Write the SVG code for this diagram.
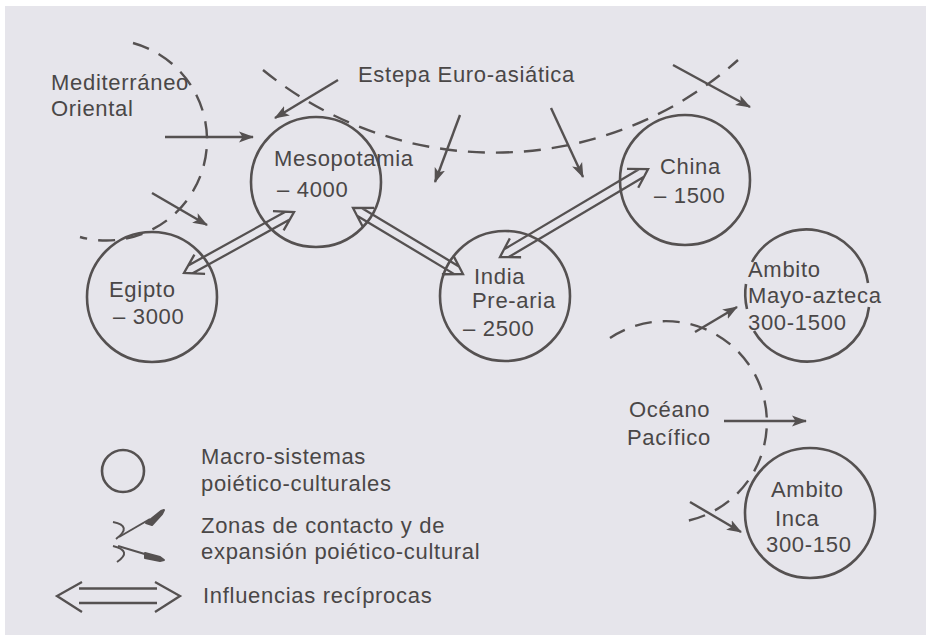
<svg xmlns="http://www.w3.org/2000/svg" width="926" height="635" viewBox="0 0 926 635">
<defs>
<style>
text{font-family:"Liberation Sans",Arial,sans-serif;font-size:22px;letter-spacing:0.7px;fill:#4a4747}
.c{fill:none;stroke:#555151;stroke-width:2.6}
.d{fill:none;stroke:#555151;stroke-width:2.4;stroke-dasharray:17 11}
.a{fill:none;stroke:#555151;stroke-width:2.4;marker-end:url(#ah)}
.w{fill:none;stroke:#555151;stroke-width:2.3;stroke-linejoin:miter}
</style>
<marker id="ah" markerUnits="userSpaceOnUse" markerWidth="18" markerHeight="12" refX="14" refY="6" orient="auto">
<path d="M0,0.5 L15,6 L0,11.5 L3.5,6 z" fill="#555151"/>
</marker>
</defs>
<rect width="926" height="635" fill="#ffffff"/>
<rect x="5" y="6" width="921" height="629" fill="#e6e5eb"/>

<g id="zones">
<path class="d" d="M133,43 A100,100 0 0 1 80,237"/>
<path class="d" d="M263,70 A366,366 0 0 0 738,60"/>
<path class="d" d="M610,338 A101,101 0 1 1 681,522"/>
</g>

<g id="connectors">
<line class="a" x1="165" y1="137" x2="253" y2="137"/>
<line class="a" x1="152" y1="193" x2="207" y2="225"/>
<line class="a" x1="338" y1="80" x2="275" y2="118"/>
<line class="a" x1="460" y1="115" x2="435" y2="182"/>
<line class="a" x1="551" y1="108" x2="583" y2="177"/>
<line class="a" x1="673" y1="65" x2="750" y2="107"/>
<line class="a" x1="695" y1="332" x2="737" y2="307"/>
<line class="a" x1="724" y1="421" x2="806" y2="421"/>
<line class="a" x1="690" y1="502" x2="741" y2="532"/>
<g transform="translate(184,273) rotate(-29)">
<path class="w" d="M18,-11 L0,0 L18,11 M107.8,-11 L125.8,0 L107.8,11 M7.4,-4.5 H118.4 M7.4,4.5 H118.4"/>
</g>
<g transform="translate(353,208) rotate(31)">
<path class="w" d="M18,-11 L0,0 L18,11 M110.3,-11 L128.3,0 L110.3,11 M7.4,-4.5 H120.9 M7.4,4.5 H120.9"/>
</g>
<g transform="translate(500,257) rotate(-30.7)">
<path class="w" d="M18,-11 L0,0 L18,11 M154.2,-11 L172.2,0 L154.2,11 M7.4,-4.5 H164.8 M7.4,4.5 H164.8"/>
</g>
</g>

<g id="labels">
<text x="51" y="90">Mediterráneo</text>
<text x="51" y="116">Oriental</text>
<text x="358" y="82">Estepa Euro-asiática</text>
<text x="629" y="417">Océano</text>
<text x="627" y="445">Pacífico</text>
</g>

<g id="mesopotamia">
<circle class="c" cx="316" cy="182" r="65"/>
<text x="274" y="166">Mesopotamia</text>
<text x="277" y="197">– 4000</text>
</g>
<g id="egipto">
<circle class="c" cx="152" cy="297" r="65"/>
<text x="109" y="297">Egipto</text>
<text x="113" y="324">– 3000</text>
</g>
<g id="india">
<circle class="c" cx="505" cy="296" r="65"/>
<text x="474" y="284">India</text>
<text x="472" y="308">Pre-aria</text>
<text x="463" y="336">– 2500</text>
</g>
<g id="china">
<circle class="c" cx="685" cy="180" r="65"/>
<text x="660" y="174">China</text>
<text x="654" y="203">– 1500</text>
</g>
<g id="mayo-azteca">
<path class="c" d="M752,262 A62,62 0 0 1 868,283"/>
<path class="c" d="M869,307 A62,62 0 0 1 754,331"/>
<path class="c" d="M746,284 Q744,296 747,309"/>
<text x="748" y="277">Ambito</text>
<text x="748" y="303">Mayo-azteca</text>
<text x="748" y="330">300-1500</text>
</g>
<g id="inca">
<circle class="c" cx="810" cy="513" r="65"/>
<text x="771" y="497">Ambito</text>
<text x="775" y="526">Inca</text>
<text x="766" y="552">300-150</text>
</g>

<g id="legend">
<circle class="c" cx="123" cy="471" r="21"/>
<text x="201" y="464">Macro-sistemas</text>
<text x="201" y="491">poiético-culturales</text>
<path class="c" style="stroke-width:2" d="M113,522 Q133,526 116,539"/>
<line x1="119" y1="537" x2="150" y2="519" stroke="#555151" stroke-width="2"/>
<path d="M146,523 L161,511 L164,510 L162,514 L152,525 z" fill="#555151" stroke="#555151" stroke-width="2" stroke-linejoin="round"/>
<path class="c" style="stroke-width:2" d="M113,546 Q133,551 117,562"/>
<line x1="118" y1="546" x2="148" y2="555" stroke="#555151" stroke-width="2"/>
<path d="M145,553 L160,557 L164,560 L160,561 L145,558 z" fill="#555151" stroke="#555151" stroke-width="2" stroke-linejoin="round"/>
<text x="201" y="533">Zonas de contacto y de</text>
<text x="201" y="559">expansión poiético-cultural</text>
<path class="w" d="M82,582 L57,596 L82,612 M155,582 L180,596 L155,612 M79,588.5 H157 M79,603 H157"/>
<text x="203" y="603">Influencias recíprocas</text>
</g>
</svg>
